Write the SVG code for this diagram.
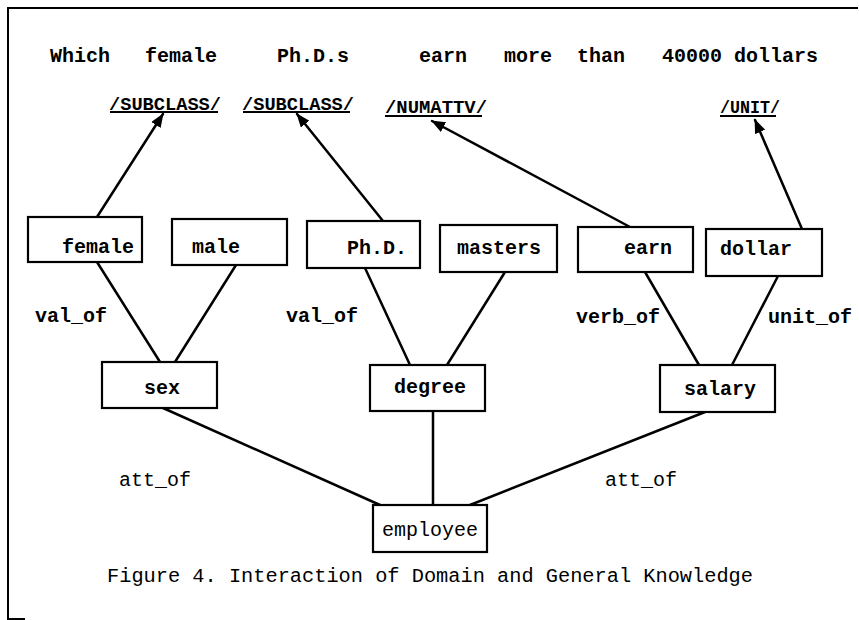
<svg xmlns="http://www.w3.org/2000/svg" width="859" height="620" viewBox="0 0 859 620">
<defs>
<marker id="arr" markerUnits="userSpaceOnUse" markerWidth="14" markerHeight="11" viewBox="0 0 14 11" refX="13" refY="5.5" orient="auto">
<path d="M0,0 L14,5.5 L0,11 Z" fill="#000"/>
</marker>
<style>
.t{font-family:"Liberation Mono","DejaVu Sans Mono",monospace;font-size:20px;font-weight:bold;fill:#000}
.c{font-family:"Liberation Mono","DejaVu Sans Mono",monospace;font-size:20px;fill:#000}
.k{font-family:"Liberation Mono","DejaVu Sans Mono",monospace;font-size:19px;font-weight:bold;fill:#000}
.box{fill:#fff;stroke:#000;stroke-width:2.2}
.ln{stroke:#000;stroke-width:2.5;fill:none;stroke-linecap:round}
.ul{stroke:#000;stroke-width:2;fill:none}
</style>
</defs>
<rect width="859" height="620" fill="#fff"/>
<polyline points="858,8 8,8 8,619 25,619" fill="none" stroke="#000" stroke-width="2"/>

<g id="sentence">
<text class="t" x="50" y="62">Which</text>
<text class="t" x="145" y="62">female</text>
<text class="t" x="277" y="62">Ph.D.s</text>
<text class="t" x="419" y="62">earn</text>
<text class="t" x="504" y="62">more</text>
<text class="t" x="577" y="62">than</text>
<text class="t" x="662" y="62">40000 dollars</text>
</g>

<g id="connectors">
<line class="ln" x1="97" y1="217" x2="163" y2="114" marker-end="url(#arr)"/>
<line class="ln" x1="383" y1="221" x2="297" y2="114" marker-end="url(#arr)"/>
<line class="ln" x1="630" y1="227" x2="432" y2="121" marker-end="url(#arr)"/>
<line class="ln" x1="802" y1="229" x2="755" y2="120" marker-end="url(#arr)"/>
<line class="ln" x1="97" y1="262" x2="160" y2="362"/>
<line class="ln" x1="236" y1="265" x2="175" y2="362"/>
<line class="ln" x1="365" y1="268" x2="410" y2="365"/>
<line class="ln" x1="505" y1="272" x2="447" y2="365"/>
<line class="ln" x1="645" y1="272" x2="699" y2="365"/>
<line class="ln" x1="778" y1="276" x2="732" y2="365"/>
<line class="ln" x1="163" y1="408" x2="380" y2="505"/>
<line class="ln" x1="433" y1="411" x2="433" y2="505"/>
<line class="ln" x1="705" y1="412" x2="470" y2="505"/>
</g>

<g id="subclass1">
<text class="k" x="109" y="110" textLength="112" lengthAdjust="spacingAndGlyphs">/SUBCLASS/</text>
<line class="ul" x1="110" y1="112" x2="218" y2="112"/>
</g>
<g id="subclass2">
<text class="k" x="242" y="110" textLength="112" lengthAdjust="spacingAndGlyphs">/SUBCLASS/</text>
<line class="ul" x1="243" y1="112" x2="350" y2="112"/>
</g>
<g id="numattv">
<text class="k" x="385" y="113" textLength="102" lengthAdjust="spacingAndGlyphs">/NUMATTV/</text>
<line class="ul" x1="385" y1="116" x2="482" y2="116"/>
</g>
<g id="unit">
<text class="k" x="720" y="113" textLength="60" lengthAdjust="spacingAndGlyphs">/UNIT/</text>
<line class="ul" x1="720" y1="116" x2="776" y2="116"/>
</g>

<g id="female"><rect class="box" x="28" y="217" width="114" height="45"/><text class="t" x="62" y="253">female</text></g>
<g id="male"><rect class="box" x="172" y="219" width="115" height="46"/><text class="t" x="192" y="253">male</text></g>
<g id="phd"><rect class="box" x="307" y="221" width="113" height="47"/><text class="t" x="347" y="254">Ph.D.</text></g>
<g id="masters"><rect class="box" x="440" y="225" width="117" height="47"/><text class="t" x="457" y="254">masters</text></g>
<g id="earn"><rect class="box" x="578" y="227" width="115" height="45"/><text class="t" x="624" y="254">earn</text></g>
<g id="dollar"><rect class="box" x="706" y="229" width="116" height="47"/><text class="t" x="720" y="255">dollar</text></g>
<g id="sex"><rect class="box" x="102" y="362" width="115" height="46"/><text class="t" x="144" y="394">sex</text></g>
<g id="degree"><rect class="box" x="370" y="365" width="115" height="46"/><text class="t" x="394" y="393">degree</text></g>
<g id="salary"><rect class="box" x="660" y="365" width="115" height="47"/><text class="t" x="684" y="395">salary</text></g>
<g id="employee"><rect class="box" x="373" y="505" width="114" height="47"/><text class="c" x="382" y="536">employee</text></g>

<g id="labels">
<text class="t" x="35" y="322">val_of</text>
<text class="t" x="286" y="322">val_of</text>
<text class="t" x="576" y="323">verb_of</text>
<text class="t" x="768" y="323">unit_of</text>
<text class="c" x="119" y="486">att_of</text>
<text class="c" x="605" y="486">att_of</text>
</g>

<text class="c" x="107" y="582" textLength="646" lengthAdjust="spacingAndGlyphs">Figure 4. Interaction of Domain and General Knowledge</text>
</svg>
